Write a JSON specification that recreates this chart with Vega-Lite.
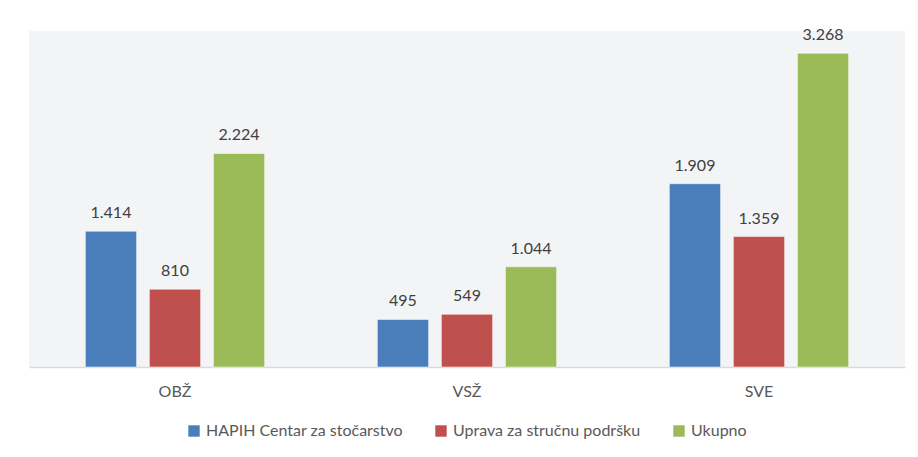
{
  "$schema": "https://vega.github.io/schema/vega-lite/v6.json",
  "width": 876,
  "height": 336,
  "autosize": {"type": "none"},
  "padding": {"left": 29, "top": 31, "right": 13, "bottom": 90},
  "background": "#ffffff",
  "config": {
    "locale": {"number": {"decimal": ",", "thousands": ".", "grouping": [3], "currency": ["", ""]}},
    "view": {"fill": "#f3f4f6", "stroke": null},
    "font": "Lato"
  },
  "data": {
    "values": [
      {"kategorija": "OBŽ", "serija": "HAPIH Centar za stočarstvo", "vrijednost": 1414},
      {"kategorija": "OBŽ", "serija": "Uprava za stručnu podršku", "vrijednost": 810},
      {"kategorija": "OBŽ", "serija": "Ukupno", "vrijednost": 2224},
      {"kategorija": "VSŽ", "serija": "HAPIH Centar za stočarstvo", "vrijednost": 495},
      {"kategorija": "VSŽ", "serija": "Uprava za stručnu podršku", "vrijednost": 549},
      {"kategorija": "VSŽ", "serija": "Ukupno", "vrijednost": 1044},
      {"kategorija": "SVE", "serija": "HAPIH Centar za stočarstvo", "vrijednost": 1909},
      {"kategorija": "SVE", "serija": "Uprava za stručnu podršku", "vrijednost": 1359},
      {"kategorija": "SVE", "serija": "Ukupno", "vrijednost": 3268}
    ]
  },
  "encoding": {
    "x": {
      "field": "kategorija", "type": "nominal", "sort": ["OBŽ", "VSŽ", "SVE"],
      "scale": {"paddingInner": 0, "paddingOuter": 0},
      "axis": {"title": null, "labelAngle": 0, "ticks": false, "domainColor": "#d9d9d9", "domainWidth": 1.5,
               "labelFontSize": 16, "labelColor": "#595959", "labelPadding": 16, "labelFont": "Lato"}
    },
    "xOffset": {
      "field": "serija", "type": "nominal",
      "sort": ["HAPIH Centar za stočarstvo", "Uprava za stručnu podršku", "Ukupno"],
      "scale": {"paddingInner": 0.2, "paddingOuter": 0.88}
    },
    "y": {
      "field": "vrijednost", "type": "quantitative",
      "scale": {"domain": [0, 3500], "nice": false},
      "axis": null
    }
  },
  "layer": [
    {
      "mark": {"type": "bar", "stroke": "#ffffff", "strokeOpacity": 0.5, "strokeWidth": 1},
      "encoding": {
        "color": {
          "field": "serija", "type": "nominal",
          "sort": ["HAPIH Centar za stočarstvo", "Uprava za stručnu podršku", "Ukupno"],
          "scale": {"domain": ["HAPIH Centar za stočarstvo", "Uprava za stručnu podršku", "Ukupno"],
                    "range": ["#4a7ebb", "#c0504d", "#9bbb59"]},
          "legend": {"title": null, "orient": "none", "legendX": 157, "legendY": 392, "direction": "horizontal",
                     "symbolType": "square", "symbolSize": 130, "symbolStrokeWidth": 0, "labelFontSize": 16,
                     "labelColor": "#595959", "labelFont": "Lato", "labelLimit": 0, "columnPadding": 30, "labelOffset": 4}
        }
      }
    },
    {
      "mark": {"type": "text", "baseline": "bottom", "dy": -10, "fontSize": 16, "color": "#404040", "font": "Lato"},
      "encoding": {
        "text": {"field": "vrijednost", "type": "quantitative", "format": ",d"}
      }
    }
  ]
}
